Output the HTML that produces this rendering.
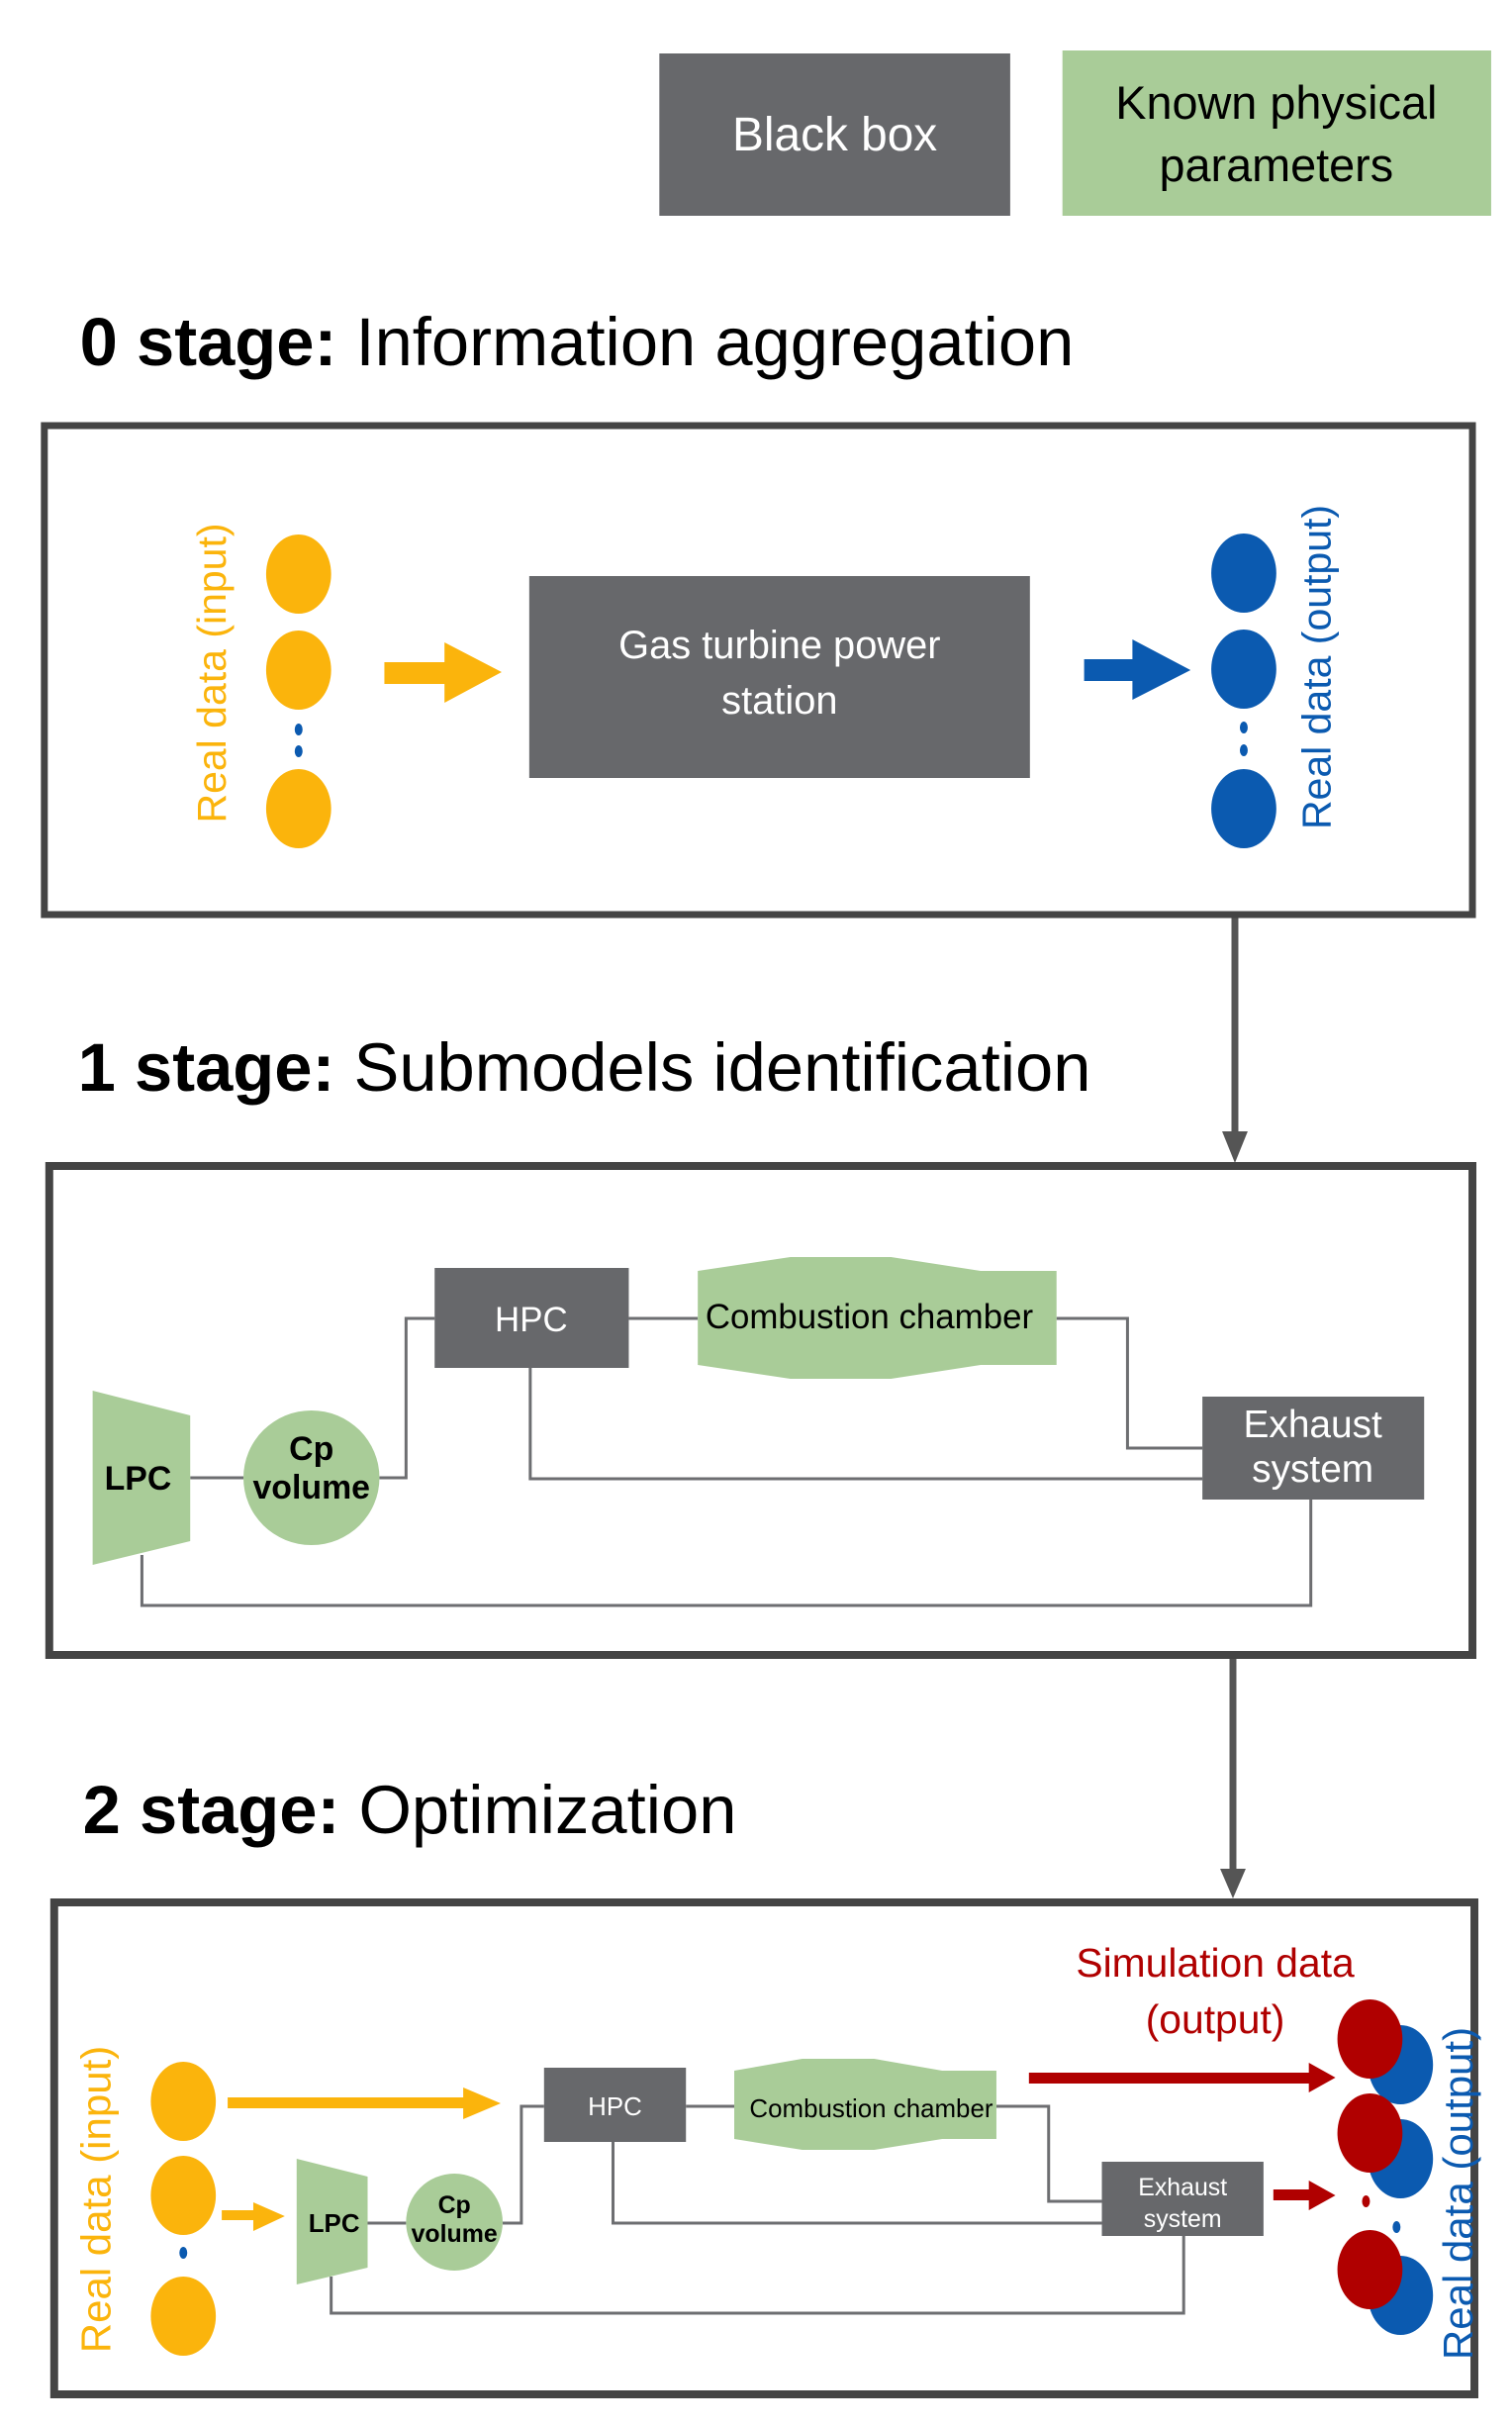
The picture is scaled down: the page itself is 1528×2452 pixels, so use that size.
<!DOCTYPE html>
<html><head><meta charset="utf-8"><style>
html,body{margin:0;padding:0;background:#fff}
svg{display:block}
text{font-family:"Liberation Sans",Arial,sans-serif}
</style></head><body>
<svg width="1528" height="2452" viewBox="0 0 1528 2452" xmlns="http://www.w3.org/2000/svg">
<g transform="scale(0.996,1)">
<!-- legend -->
<rect x="669" y="54" width="356" height="164" fill="#67686b"/>
<text x="847" y="152" font-size="48" fill="#fff" text-anchor="middle">Black box</text>
<rect x="1078" y="51" width="435" height="167" fill="#a9cc98"/>
<text x="1295" y="120" font-size="47" fill="#000" text-anchor="middle">Known physical</text>
<text x="1295" y="183" font-size="47" fill="#000" text-anchor="middle">parameters</text>

<!-- stage titles -->
<text x="81" y="369" font-size="69" fill="#000"><tspan font-weight="bold">0 stage:</tspan> Information aggregation</text>
<text x="79" y="1102" font-size="69" fill="#000"><tspan font-weight="bold">1 stage:</tspan> Submodels identification</text>
<text x="84" y="1852" font-size="69" fill="#000"><tspan font-weight="bold">2 stage:</tspan> Optimization</text>

<!-- connectors between boxes -->
<line x1="1253" y1="926" x2="1253" y2="1150" stroke="#555" stroke-width="7"/>
<polygon points="1240,1143 1266,1143 1253,1175" fill="#555"/>
<line x1="1251" y1="1675" x2="1251" y2="1893" stroke="#555" stroke-width="7"/>
<polygon points="1238,1888 1264,1888 1251,1918" fill="#555"/>

<!-- Box 0 -->
<rect x="45" y="430" width="1449" height="494" fill="none" stroke="#444" stroke-width="7"/>
<text transform="translate(229,680) rotate(-90)" font-size="41" fill="#fbb40c" text-anchor="middle">Real data (input)</text>
<ellipse cx="303" cy="580" rx="33" ry="40" fill="#fbb40c"/>
<ellipse cx="303" cy="677" rx="33" ry="40" fill="#fbb40c"/>
<ellipse cx="303" cy="817" rx="33" ry="40" fill="#fbb40c"/>
<ellipse cx="303" cy="737" rx="4" ry="6" fill="#0b5ab0"/>
<ellipse cx="303" cy="759" rx="4" ry="6" fill="#0b5ab0"/>
<polygon points="390,669 451,669 451,649 509,679 451,710 451,691 390,691" fill="#fbb40c"/>
<rect x="537" y="582" width="508" height="204" fill="#67686b"/>
<text x="791" y="665" font-size="40" fill="#fff" text-anchor="middle">Gas turbine power</text>
<text x="791" y="721" font-size="40" fill="#fff" text-anchor="middle">station</text>
<polygon points="1100,666 1149,666 1149,646 1208,677 1149,707 1149,688 1100,688" fill="#0b5ab0"/>
<ellipse cx="1262" cy="579" rx="33" ry="40" fill="#0b5ab0"/>
<ellipse cx="1262" cy="676" rx="33" ry="40" fill="#0b5ab0"/>
<ellipse cx="1262" cy="817" rx="33" ry="40" fill="#0b5ab0"/>
<ellipse cx="1262" cy="735" rx="4" ry="6" fill="#0b5ab0"/>
<ellipse cx="1262" cy="758" rx="4" ry="6" fill="#0b5ab0"/>
<text transform="translate(1350,674) rotate(-90)" font-size="41" fill="#0b5ab0" text-anchor="middle">Real data (output)</text>

<!-- Box 1 -->
<rect x="50" y="1178" width="1444" height="494" fill="none" stroke="#444" stroke-width="8"/>
<g fill="none" stroke="#6d6e71" stroke-width="3">
<polyline points="193,1493 247,1493"/>
<polyline points="385,1493 412,1493 412,1332 441,1332"/>
<polyline points="638,1332 708,1332"/>
<polyline points="1072,1332 1144,1332 1144,1463 1220,1463"/>
<polyline points="538,1382 538,1494 1220,1494"/>
<polyline points="144,1571 144,1622 1330,1622 1330,1515"/>
</g>
<polygon points="94,1405 193,1430 193,1557 94,1581" fill="#a9cc98"/>
<text x="140" y="1505" font-size="34" font-weight="bold" fill="#000" text-anchor="middle">LPC</text>
<ellipse cx="316" cy="1493" rx="69" ry="68" fill="#a9cc98"/>
<text x="316" y="1475" font-size="34" font-weight="bold" fill="#000" text-anchor="middle">Cp</text>
<text x="316" y="1514" font-size="34" font-weight="bold" fill="#000" text-anchor="middle">volume</text>
<rect x="441" y="1281" width="197" height="101" fill="#67686b"/>
<text x="539" y="1345" font-size="35" fill="#fff" text-anchor="middle">HPC</text>
<polygon points="708,1284 802,1270 904,1270 995,1284 1072,1284 1072,1379 995,1379 904,1393 802,1393 708,1379" fill="#a9cc98"/>
<text x="882" y="1342" font-size="35" fill="#000" text-anchor="middle">Combustion chamber</text>
<rect x="1220" y="1411" width="225" height="104" fill="#67686b"/>
<text x="1332" y="1452" font-size="39" fill="#fff" text-anchor="middle">Exhaust</text>
<text x="1332" y="1497" font-size="39" fill="#fff" text-anchor="middle">system</text>

<!-- Box 2 -->
<rect x="55" y="1922" width="1441" height="497" fill="none" stroke="#444" stroke-width="8"/>
<text x="1233" y="1997" font-size="41" fill="#b00000" text-anchor="middle">Simulation data</text>
<text x="1233" y="2054" font-size="41" fill="#b00000" text-anchor="middle">(output)</text>
<text transform="translate(112,2222) rotate(-90)" font-size="42" fill="#fbb40c" text-anchor="middle">Real data (input)</text>
<ellipse cx="186" cy="2123" rx="33" ry="40" fill="#fbb40c"/>
<ellipse cx="186" cy="2218" rx="33" ry="40" fill="#fbb40c"/>
<ellipse cx="186" cy="2340" rx="33" ry="40" fill="#fbb40c"/>
<ellipse cx="186" cy="2276" rx="4" ry="6" fill="#0b5ab0"/>
<polygon points="231,2119 470,2119 470,2109 508,2125 470,2141 470,2130 231,2130" fill="#fbb40c"/>
<polygon points="225,2233 257,2233 257,2225 289,2239 257,2254 257,2243 225,2243" fill="#fbb40c"/>
<g fill="none" stroke="#6d6e71" stroke-width="3">
<polyline points="373,2246 412,2246"/>
<polyline points="510,2246 529,2246 529,2128 552,2128"/>
<polyline points="696,2128 745,2128"/>
<polyline points="1011,2128 1064,2128 1064,2224 1118,2224"/>
<polyline points="622,2164 622,2246 1118,2246"/>
<polyline points="336,2300 336,2337 1201,2337 1201,2259"/>
</g>
<polygon points="301,2181 373,2199 373,2291 301,2308" fill="#a9cc98"/>
<text x="339" y="2255" font-size="26" font-weight="bold" fill="#000" text-anchor="middle">LPC</text>
<ellipse cx="461" cy="2245" rx="49" ry="49" fill="#a9cc98"/>
<text x="461" y="2236" font-size="25" font-weight="bold" fill="#000" text-anchor="middle">Cp</text>
<text x="461" y="2265" font-size="25" font-weight="bold" fill="#000" text-anchor="middle">volume</text>
<rect x="552" y="2089" width="144" height="75" fill="#67686b"/>
<text x="624" y="2137" font-size="26" fill="#fff" text-anchor="middle">HPC</text>
<polygon points="745,2092 814,2080 887,2080 956,2092 1011,2092 1011,2161 956,2161 887,2172 814,2172 745,2161" fill="#a9cc98"/>
<text x="884" y="2139" font-size="26" fill="#000" text-anchor="middle">Combustion chamber</text>
<rect x="1118" y="2184" width="164" height="75" fill="#67686b"/>
<text x="1200" y="2218" font-size="25" fill="#fff" text-anchor="middle">Exhaust</text>
<text x="1200" y="2250" font-size="25" fill="#fff" text-anchor="middle">system</text>
<polygon points="1044,2094 1328,2094 1328,2084 1355,2099 1328,2114 1328,2105 1044,2105" fill="#b00000"/>
<polygon points="1292,2212 1328,2212 1328,2203 1355,2218 1328,2233 1328,2223 1292,2223" fill="#b00000"/>
<ellipse cx="1421" cy="2086" rx="33" ry="40" fill="#0b5ab0"/>
<ellipse cx="1421" cy="2181" rx="33" ry="40" fill="#0b5ab0"/>
<ellipse cx="1421" cy="2319" rx="33" ry="40" fill="#0b5ab0"/>
<ellipse cx="1390" cy="2060" rx="33" ry="40" fill="#b00000"/>
<ellipse cx="1390" cy="2155" rx="33" ry="40" fill="#b00000"/>
<ellipse cx="1390" cy="2293" rx="33" ry="40" fill="#b00000"/>
<ellipse cx="1386" cy="2224" rx="4" ry="6" fill="#b00000"/>
<ellipse cx="1417" cy="2250" rx="4" ry="6" fill="#0b5ab0"/>
<text transform="translate(1494,2216) rotate(-90)" font-size="42" fill="#0b5ab0" text-anchor="middle">Real data (output)</text>
</g>
</svg>
</body></html>
